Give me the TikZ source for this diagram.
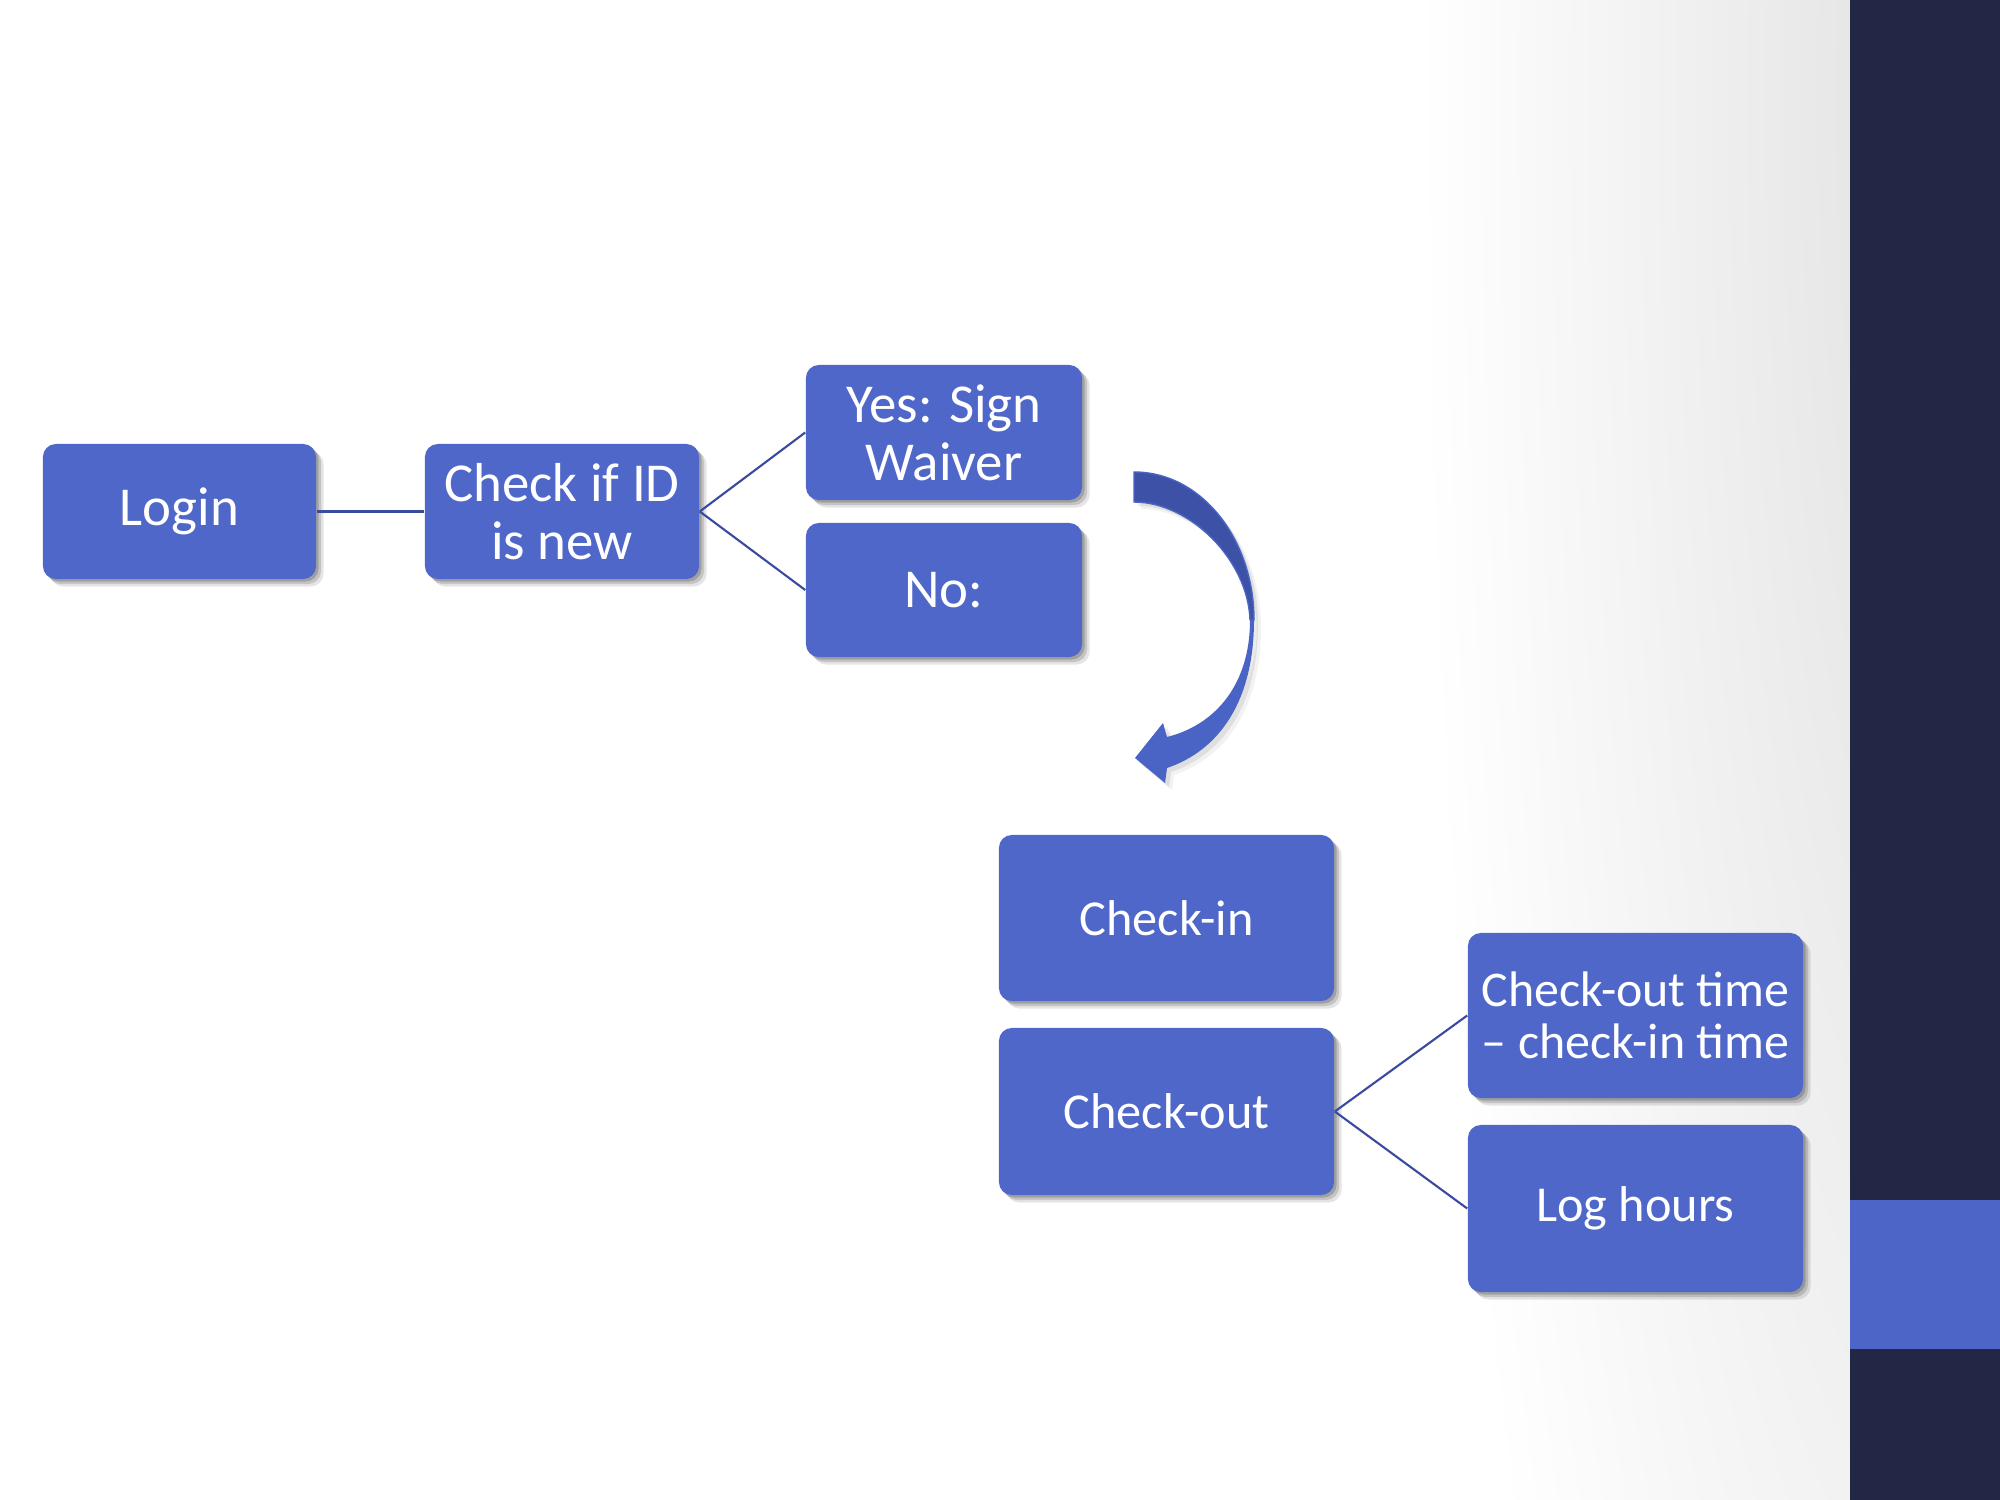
\documentclass[tikz,border=0pt]{standalone}
\usepackage{fontspec}
\setmainfont{Carlito}
\usetikzlibrary{shadows}
\definecolor{boxblue}{HTML}{4F67C8}
\definecolor{linkblue}{HTML}{3A4A9E}
\definecolor{bandnavy}{HTML}{222745}
\definecolor{bandblue}{HTML}{4C65C6}
\definecolor{arrowdark}{HTML}{3D52A6}
\definecolor{arrowlight}{HTML}{4A64C6}
\tikzset{
  box/.style={draw=none, fill=boxblue, rounded corners=0.13cm, text=white,
    align=center, inner sep=0pt,
    drop shadow={shadow xshift=0.075cm, shadow yshift=-0.075cm, opacity=0.10, fill=black},
    drop shadow={shadow xshift=0.05cm, shadow yshift=-0.05cm, opacity=0.14, fill=black},
    drop shadow={shadow xshift=0.025cm, shadow yshift=-0.025cm, opacity=0.18, fill=black}},
  big/.style={font=\fontsize{15.6pt}{16.5pt}\selectfont},
  mid/.style={font=\fontsize{14.3pt}{16pt}\selectfont},
  small/.style={font=\fontsize{14.2pt}{14.8pt}\selectfont},
  link/.style={draw=linkblue, line width=0.6pt},
}
\begin{document}
\begin{tikzpicture}[x=0.01cm, y=-0.01cm]
\useasboundingbox (0,0) rectangle (2000,1500);
% background
\fill[white] (0,0) rectangle (1850,1500);
\begin{scope}
\clip (0,0) rectangle (1850,1500);
\shade[inner color=black!12, outer color=white] (1960,100) ellipse [x radius=5.4cm, y radius=26cm];
\end{scope}
% right band
\fill[bandnavy] (1850,0) rectangle (2000,1500);
\fill[bandblue] (1850,1200) rectangle (2000,1349);

% boxes
\node[box, big, minimum width=2.73cm, minimum height=1.35cm] (login) at (179.5,511.5) {Login};
\node[box, big, minimum width=2.74cm, minimum height=1.35cm] (check) at (562,511.5) {Check if ID\\is new};
\node[box, big, minimum width=2.76cm, minimum height=1.35cm] (yes) at (944,432.5) {Yes: Sign\\Waiver};
\node[box, big, minimum width=2.76cm, minimum height=1.34cm] (no) at (944,590) {No:};
\node[box, mid, minimum width=3.35cm, minimum height=1.66cm] (checkin) at (1166.5,918) {Check-in};
\node[box, mid, minimum width=3.35cm, minimum height=1.67cm] (checkout) at (1166.5,1111.5) {Check-out};
\node[box, small, minimum width=3.35cm, minimum height=1.65cm] (diff) at (1635.5,1015.5) {Check-out time\\– check-in time};
\node[box, mid, minimum width=3.35cm, minimum height=1.67cm] (log) at (1635.5,1208.5) {Log hours};

% connectors
\draw[link] (login.east) -- (check.west);
\draw[link] (check.east) -- (yes.west);
\draw[link] (check.east) -- (no.west);
\draw[link] (checkout.east) -- (diff.west);
\draw[link] (checkout.east) -- (log.west);

% curved arrow soft shadow
\foreach \d/\o in {7/0.05, 4/0.08} {
\fill[black, opacity=\o, shift={(\d,\d)}] (1134,472) .. controls (1202,472) and (1254,540) .. (1254,620)
  .. controls (1254,700) and (1220,750) .. (1167,768) -- (1165,783) -- (1135,758)
  -- (1163,723) -- (1167,737) .. controls (1215,725) and (1250,685) .. (1250,620)
  .. controls (1248,560) and (1190,502) .. (1134,502) -- cycle;
}
% curved arrow: back (upper) part
\fill[arrowdark, draw=arrowlight, line width=0.4pt] (1134,472) .. controls (1202,472) and (1254,540) .. (1254,620)
  -- (1250,620) .. controls (1248,560) and (1190,502) .. (1134,502) -- cycle;
% curved arrow: front (lower) part with head
\fill[arrowlight] (1254,620) .. controls (1254,700) and (1220,750) .. (1167,768)
  -- (1165,783) -- (1135,758) -- (1163,723) -- (1167,737)
  .. controls (1215,725) and (1250,685) .. (1250,620) -- cycle;
\end{tikzpicture}
\end{document}
